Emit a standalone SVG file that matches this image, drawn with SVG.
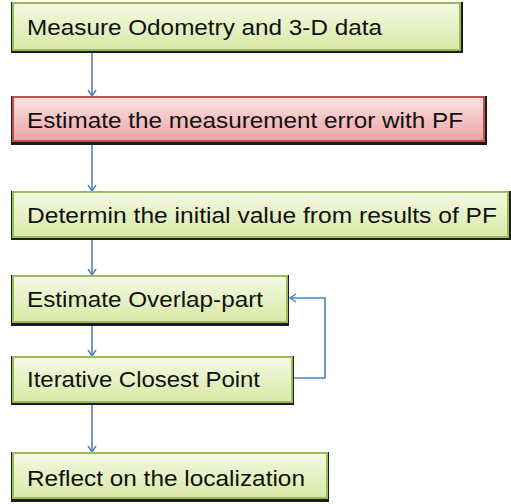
<svg xmlns="http://www.w3.org/2000/svg" width="511" height="504" viewBox="0 0 511 504">
<defs>
<linearGradient id="gG" x1="0" y1="0" x2="0" y2="1">
<stop offset="0" stop-color="#f4f9e4"/>
<stop offset="1" stop-color="#d9e9a6"/>
</linearGradient>
<linearGradient id="gR" x1="0" y1="0" x2="0" y2="1">
<stop offset="0" stop-color="#fae2e2"/>
<stop offset="1" stop-color="#eda4a4"/>
</linearGradient>
<marker id="arr" markerWidth="10" markerHeight="10" refX="8" refY="5" orient="auto" markerUnits="userSpaceOnUse">
<path d="M2,1 L8,5 L2,9" fill="none" stroke="#4f81bd" stroke-width="1.5"/>
</marker>
</defs>
<style>
.sh{fill:#1c1c1c}
.g{fill:url(#gG);stroke:#9bbb59;stroke-width:2}
.r{fill:url(#gR);stroke:#c0504d;stroke-width:2}
.t{font-family:"Liberation Sans",Arial,sans-serif;font-size:22px;fill:#111}
.c{fill:none;stroke:#4f81bd;stroke-width:1.6}
</style>
<g id="connectors">
<line class="c" x1="92" y1="52" x2="92" y2="96" marker-end="url(#arr)"/>
<line class="c" x1="92" y1="145" x2="92" y2="191" marker-end="url(#arr)"/>
<line class="c" x1="92" y1="240" x2="92" y2="275" marker-end="url(#arr)"/>
<line class="c" x1="92" y1="326" x2="92" y2="356" marker-end="url(#arr)"/>
<line class="c" x1="92" y1="405" x2="92" y2="452" marker-end="url(#arr)"/>
<path class="c" d="M294,378 H325 V298 H290" marker-end="url(#arr)"/>
</g>
<g id="n1">
<rect class="sh" x="11" y="2" width="452" height="51"/>
<rect class="g" x="13" y="3" width="447" height="47"/>
<text class="t" x="27" y="35" textLength="355" lengthAdjust="spacingAndGlyphs">Measure Odometry and 3-D data</text>
</g>
<g id="n2">
<rect class="sh" x="11" y="96" width="476" height="49"/>
<rect class="r" x="13" y="97" width="471" height="44"/>
<text class="t" x="27" y="128" textLength="436" lengthAdjust="spacingAndGlyphs">Estimate the measurement error with PF</text>
</g>
<g id="n3">
<rect class="sh" x="11" y="191" width="500" height="49"/>
<rect class="g" x="13" y="192" width="495" height="45"/>
<text class="t" x="27" y="223" textLength="470" lengthAdjust="spacingAndGlyphs">Determin the initial value from results of PF</text>
</g>
<g id="n4">
<rect class="sh" x="11" y="275" width="278" height="51"/>
<rect class="g" x="13" y="276" width="274" height="46"/>
<text class="t" x="27" y="307" textLength="236" lengthAdjust="spacingAndGlyphs">Estimate Overlap-part</text>
</g>
<g id="n5">
<rect class="sh" x="11" y="356" width="283" height="49"/>
<rect class="g" x="13" y="357" width="279" height="45"/>
<text class="t" x="27" y="387" textLength="233" lengthAdjust="spacingAndGlyphs">Iterative Closest Point</text>
</g>
<g id="n6">
<rect class="sh" x="11" y="452" width="318" height="50"/>
<rect class="g" x="13" y="453" width="314" height="45"/>
<text class="t" x="27" y="486" textLength="278" lengthAdjust="spacingAndGlyphs">Reflect on the localization</text>
</g>
</svg>
